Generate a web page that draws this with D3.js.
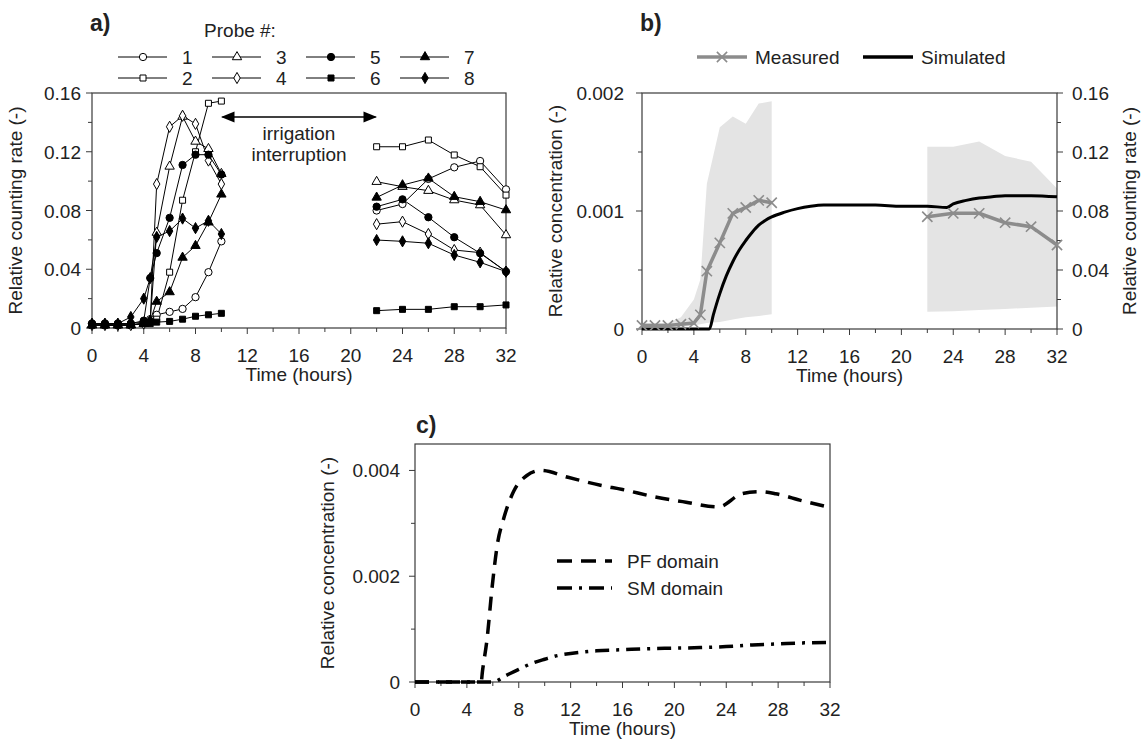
<!DOCTYPE html>
<html><head><meta charset="utf-8">
<script src="https://cdn.jsdelivr.net/npm/d3@7"></script>
<style>
body{margin:0;background:#fff;}
svg text{font-family:"Liberation Sans",Arial,sans-serif;fill:#222;}
</style></head>
<body><svg id="c" width="1147" height="742"></svg>
<script>
// ---------- DATA ----------
const hoursTicks = [0,4,8,12,16,20,24,28,32];
const tEarly = [0,1,2,3,4,4.5,5,6,7,8,9,10];
const tLate = [22,24,26,28,30,32];
const probeNames = ["1","2","3","4","5","6","7","8"];
const probeEarly = [
 [0.003,0.003,0.003,0.003,0.004,0.006,0.009,0.011,0.013,0.021,0.038,0.059],
 [0.002,0.002,0.002,0.002,0.003,0.004,0.006,0.038,0.087,0.120,0.153,0.1545],
 [0.002,0.002,0.002,0.002,0.003,0.005,0.065,0.110,0.144,0.127,0.122,0.105],
 [0.002,0.002,0.002,0.002,0.003,0.005,0.098,0.137,0.1445,0.139,0.114,0.098],
 [0.003,0.003,0.003,0.003,0.005,0.034,0.051,0.075,0.111,0.118,0.118,0.1045],
 [0.002,0.002,0.002,0.002,0.003,0.003,0.004,0.0045,0.006,0.008,0.009,0.010],
 [0.002,0.002,0.002,0.002,0.003,0.005,0.018,0.0245,0.048,0.056,0.072,0.091],
 [0.003,0.003,0.003,0.0075,0.020,0.034,0.062,0.066,0.0745,0.068,0.073,0.064]
];
const probeLate = [
 [0.080,0.0844,0.1015,0.1094,0.1137,0.0944],
 [0.1234,0.1234,0.128,0.1178,0.1098,0.0905],
 [0.0996,0.0962,0.0935,0.0871,0.0837,0.0633],
 [0.0707,0.0724,0.064,0.0531,0.0513,0.0384],
 [0.0826,0.0876,0.0754,0.0618,0.0509,0.0384],
 [0.0118,0.0127,0.0127,0.0145,0.0145,0.0157],
 [0.0889,0.0973,0.1019,0.0894,0.086,0.0803],
 [0.0599,0.059,0.0577,0.0497,0.0447,0.0384]
];
const probeShape = ["circle","square","triangle","diamond","circle","square","triangle","diamond"];
const probeFilled = [false,false,false,false,true,true,true,true];
const rateTicks = [0,0.04,0.08,0.12,0.16];

// panel b
const concTicksB = [0,0.001,0.002];
const measuredEarly = [0.00003,0.00003,0.00003,0.00004,0.00005,0.00012,0.00049,0.00073,0.00098,0.00103,0.00109,0.00107];
const measuredLate = [0.000951,0.00098,0.00098,0.000901,0.000867,0.000712];
const bandEarlyHi = [0.00005,0.00005,0.00005,0.0001,0.00025,0.00042,0.00123,0.00171,0.0018,0.00174,0.00191,0.00193];
const bandEarlyLo = [0.00002,0.00002,0.00002,0.00002,0.00003,0.00004,0.00005,0.00006,0.00008,0.0001,0.00011,0.000125];
const bandLateHi = [0.001545,0.001545,0.00159,0.001466,0.001418,0.00119];
const bandLateLo = [0.000146,0.00015,0.00016,0.00017,0.00018,0.00019];
const simT = [0,5.2,5.5,6,6.5,7,7.5,8,8.5,9,9.5,10,11,12,13,14,16,18,20,22,23.5,24,25,26,27,28,30,32];
const simV = [0,0,0.00012,0.0003,0.00045,0.00057,0.00067,0.00075,0.00082,0.00088,0.00092,0.00095,0.00099,0.00102,0.00104,0.00105,0.00105,0.00105,0.00104,0.00104,0.00103,0.00106,0.00109,0.00111,0.00112,0.00113,0.00113,0.00112];

// panel c
const concTicksC = [0,0.002,0.004];
const pfT = [0,5.1,5.2,5.55,5.95,6.35,6.85,7.6,8.6,9.7,11.8,14.3,16,18.5,20.9,23.4,25.2,26.5,27.8,29.8,32];
const pfV = [0,0,0.0002,0.0008,0.0018,0.0026,0.0031,0.0036,0.0039,0.004,0.00387,0.00372,0.00364,0.0035,0.0034,0.00331,0.00356,0.0036,0.00356,0.00343,0.0033];
const smT = [0,6,7,8,9,10,11,12,14,16,18,20,22,24,26,28,30,32];
const smV = [0,0,0.00012,0.00024,0.00035,0.00043,0.0005,0.00054,0.00059,0.00061,0.00063,0.00064,0.00065,0.00067,0.0007,0.00072,0.00074,0.00075];

// ---------- DRAW ----------
const svg = d3.select("#c");
const FS = 19, AX = "#3a3a3a";

function frame(x, y, opts){
  const g = svg.append("g");
  const [x0,x1] = x.range(), [y0,y1] = y.range();
  const minorX = d3.range(0,33,2);
  g.selectAll(".mx").data(minorX).join("line")
    .attr("x1",d=>x(d)).attr("x2",d=>x(d)).attr("y1",y0).attr("y2",d=>y0+(d%4===0?6:4))
    .attr("stroke",AX);
  g.selectAll(".lx").data(hoursTicks).join("text")
    .attr("x",d=>x(d)).attr("y",y0+34).attr("text-anchor","middle").attr("font-size",FS).text(d=>d);
  g.selectAll(".my").data(opts.minorY).join("line")
    .attr("x1",x0).attr("x2",d=>x0-(opts.majY.some(m=>Math.abs(m-d)<1e-9)?6:4)).attr("y1",d=>y(d)).attr("y2",d=>y(d))
    .attr("stroke",AX);
  g.selectAll(".ly").data(opts.majY).join("text")
    .attr("x",x0-opts.labGap).attr("y",d=>y(d)+7).attr("text-anchor","end").attr("font-size",FS).text(opts.fmtY);
  g.append("rect").attr("x",x0).attr("y",y1).attr("width",x1-x0).attr("height",y0-y1)
    .attr("fill","none").attr("stroke",AX).attr("stroke-width",1.2);
  g.append("text").attr("x",(x0+x1)/2).attr("y",y0+53).attr("text-anchor","middle").attr("font-size",FS).text("Time (hours)");
  g.append("text").attr("transform",`translate(${opts.titleX},${(y0+y1)/2}) rotate(-90)`)
    .attr("text-anchor","middle").attr("font-size",FS).text(opts.titleY);
  return g;
}

// ---- Panel a ----
const xa = d3.scaleLinear([0,32],[92,506]);
const ya = d3.scaleLinear([0,0.16],[328,93]);
frame(xa, ya, {minorY:d3.range(0,0.1601,0.02), majY:rateTicks, fmtY:d=>d===0?"0":d3.format(".2f")(d),
  titleX:22, titleY:"Relative counting rate (-)", labGap:11});
svg.append("text").attr("x",90).attr("y",31).attr("font-size",23).attr("font-weight","bold").text("a)");

const symType = {circle:d3.symbolCircle, square:d3.symbolSquare, triangle:d3.symbolTriangle, diamond:d3.symbolDiamond};
const symSize = {circle:42, square:36, triangle:38, diamond:36};
function marker(g, shape, filled, x, y){
  g.append("path").attr("d", d3.symbol(symType[shape], symSize[shape])())
    .attr("transform",`translate(${x},${y})`)
    .attr("fill", filled?"#000":"#fff").attr("stroke","#000").attr("stroke-width",1);
}
const lineA = d3.line().x(d=>xa(d[0])).y(d=>ya(d[1]));
const ga = svg.append("g");
probeNames.forEach((n,i)=>{
  const e = tEarly.map((t,j)=>[t,probeEarly[i][j]]);
  const l = tLate.map((t,j)=>[t,probeLate[i][j]]);
  [e,l].forEach(seg=>ga.append("path").attr("d",lineA(seg)).attr("fill","none").attr("stroke","#000").attr("stroke-width",1));
});
probeNames.forEach((n,i)=>{
  const pts = tEarly.map((t,j)=>[t,probeEarly[i][j]]).concat(tLate.map((t,j)=>[t,probeLate[i][j]]));
  pts.forEach(p=>marker(ga, probeShape[i], probeFilled[i], xa(p[0]), ya(p[1])));
});
// legend a
svg.append("text").attr("x",240).attr("y",37).attr("text-anchor","middle").attr("font-size",FS).text("Probe #:");
probeNames.forEach((n,i)=>{
  const col = Math.floor(i/2), row = i%2;
  const lx = 118 + col*94, ly = 57 + row*21;
  svg.append("line").attr("x1",lx).attr("x2",lx+49).attr("y1",ly).attr("y2",ly).attr("stroke","#000");
  marker(svg, probeShape[i], probeFilled[i], lx+25, ly);
  svg.append("text").attr("x",lx+64).attr("y",ly+7).attr("font-size",FS).text(n);
});
// irrigation arrow
const defs = svg.append("defs");
defs.append("marker").attr("id","ah").attr("viewBox","0 0 10 10").attr("refX",9).attr("refY",5)
  .attr("markerWidth",9).attr("markerHeight",9).attr("orient","auto-start-reverse")
  .append("path").attr("d","M0,1 L10,5 L0,9 Z").attr("fill","#000");
svg.append("line").attr("x1",xa(10)+1).attr("x2",xa(22)-1).attr("y1",117).attr("y2",117)
  .attr("stroke","#000").attr("stroke-width",1.5).attr("marker-start","url(#ah)").attr("marker-end","url(#ah)");
svg.append("text").attr("x",xa(16)).attr("y",140).attr("text-anchor","middle").attr("font-size",FS).text("irrigation");
svg.append("text").attr("x",xa(16)).attr("y",161).attr("text-anchor","middle").attr("font-size",FS).text("interruption");

// ---- Panel b ----
const xb = d3.scaleLinear([0,32],[642,1057]);
const yb = d3.scaleLinear([0,0.002],[329,93]);
const yb2 = d3.scaleLinear([0,0.16],[329,93]);
const gbBand = svg.append("g");
const area = d3.area().x(d=>xb(d[0])).y0(d=>yb(d[1])).y1(d=>yb(d[2]));
gbBand.append("path").attr("d",area(tEarly.map((t,j)=>[t,bandEarlyLo[j],bandEarlyHi[j]]))).attr("fill","#e4e4e4");
gbBand.append("path").attr("d",area(tLate.map((t,j)=>[t,bandLateLo[j],bandLateHi[j]]))).attr("fill","#e4e4e4");
frame(xb, yb, {minorY:d3.range(0,0.00201,0.0005), majY:concTicksB, fmtY:d=>d===0?"0":d3.format(".3f")(d),
  titleX:562, titleY:"Relative concentration (-)", labGap:18});
const gr = svg.append("g");
gr.selectAll("line").data(d3.range(0,0.1601,0.02)).join("line")
  .attr("x1",1057).attr("x2",d=>1057+(Math.round(d*100)%4===0?6:4)).attr("y1",d=>yb2(d)).attr("y2",d=>yb2(d)).attr("stroke",AX);
gr.selectAll("text").data(rateTicks).join("text")
  .attr("x",1072).attr("y",d=>yb2(d)+7).attr("font-size",FS).text(d=>d===0?"0":d3.format(".2f")(d));
svg.append("text").attr("transform",`translate(1136,${(329+93)/2}) rotate(-90)`).attr("text-anchor","middle")
  .attr("font-size",FS).text("Relative counting rate (-)");
svg.append("text").attr("x",640).attr("y",31).attr("font-size",23).attr("font-weight","bold").text("b)");

const lineB = d3.line().x(d=>xb(d[0])).y(d=>yb(d[1]));
svg.append("path").attr("d",d3.line().curve(d3.curveMonotoneX).x(d=>xb(d[0])).y(d=>yb(d[1]))(simT.map((t,j)=>[t,simV[j]])))
  .attr("fill","none").attr("stroke","#000").attr("stroke-width",3);
function xmark(x,y){
  svg.append("path").attr("d",d3.symbol(d3.symbolX,70)()).attr("transform",`translate(${x},${y})`)
    .attr("stroke","#8c8c8c").attr("stroke-width",1.6).attr("fill","none");
}
[[tEarly,measuredEarly],[tLate,measuredLate]].forEach(([ts,vs])=>{
  const pts = ts.map((t,j)=>[t,vs[j]]);
  svg.append("path").attr("d",lineB(pts)).attr("fill","none").attr("stroke","#8c8c8c").attr("stroke-width",3.5);
  pts.forEach(p=>xmark(xb(p[0]),yb(p[1])));
});
svg.append("line").attr("x1",697).attr("x2",747).attr("y1",57).attr("y2",57).attr("stroke","#8c8c8c").attr("stroke-width",3.5);
xmark(722,57);
svg.append("text").attr("x",755).attr("y",64).attr("font-size",FS).text("Measured");
svg.append("line").attr("x1",863).attr("x2",913).attr("y1",57).attr("y2",57).attr("stroke","#000").attr("stroke-width",3.5);
svg.append("text").attr("x",921).attr("y",64).attr("font-size",FS).text("Simulated");

// ---- Panel c ----
const xc = d3.scaleLinear([0,32],[415,830]);
const yc = d3.scaleLinear([0,0.0045],[682,444]);
frame(xc, yc, {minorY:[0,0.001,0.002,0.003,0.004], majY:concTicksC, fmtY:d=>d===0?"0":d3.format(".3f")(d),
  titleX:334, titleY:"Relative concentration (-)", labGap:15});
svg.append("text").attr("x",416).attr("y",433).attr("font-size",23).attr("font-weight","bold").text("c)");
const lineC = d3.line().curve(d3.curveMonotoneX).x(d=>xc(d[0])).y(d=>yc(d[1]));
svg.append("path").attr("d",lineC(pfT.map((t,j)=>[t,pfV[j]]))).attr("fill","none").attr("stroke","#000")
  .attr("stroke-width",3.5).attr("stroke-dasharray","14,9");
svg.append("path").attr("d",lineC(smT.map((t,j)=>[t,smV[j]]))).attr("fill","none").attr("stroke","#000")
  .attr("stroke-width",3.5).attr("stroke-dasharray","14,7,3,7");
svg.append("line").attr("x1",557).attr("x2",612).attr("y1",561).attr("y2",561).attr("stroke","#000").attr("stroke-width",3.5).attr("stroke-dasharray","15,9");
svg.append("line").attr("x1",557).attr("x2",612).attr("y1",588).attr("y2",588).attr("stroke","#000").attr("stroke-width",3.5).attr("stroke-dasharray","15,7,3,7");
svg.append("text").attr("x",627).attr("y",568).attr("font-size",FS).text("PF domain");
svg.append("text").attr("x",627).attr("y",595).attr("font-size",FS).text("SM domain");
</script></body></html>
